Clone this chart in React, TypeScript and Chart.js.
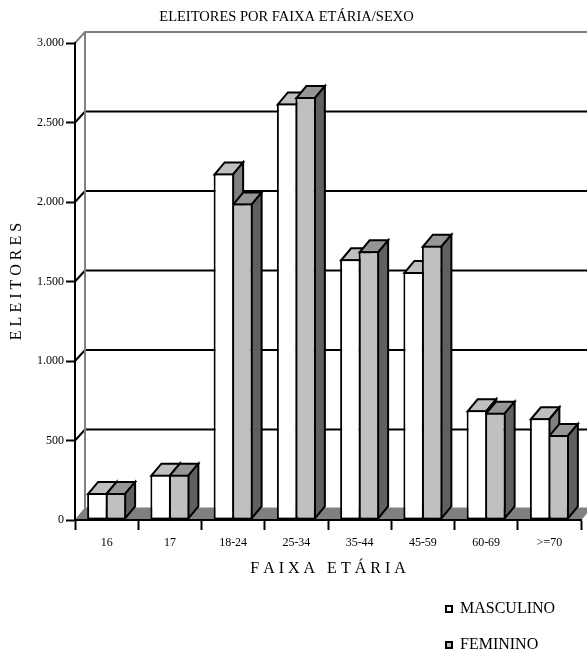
import React, { useEffect, useRef } from "react";
import { Chart, registerables } from "chart.js";

Chart.register(...registerables);

const categories = ["16", "17", "18-24", "25-34", "35-44", "45-59", "60-69", ">=70"];
const masculino = [170, 285, 2180, 2620, 1640, 1560, 690, 640];
const feminino = [170, 285, 1990, 2660, 1690, 1725, 675, 535];

const FONT = "'Liberation Serif', 'Times New Roman', serif";
const DEPTH_X = 10;
const DEPTH_Y = 12;
const seriesShades = [
  { top: "#C0C0C0", side: "#808080" },
  { top: "#969696", side: "#606060" },
];

const poly = (ctx: CanvasRenderingContext2D, pts: number[][], fill: string | null, stroke: string, lw: number) => {
  ctx.beginPath();
  pts.forEach(([x, y], i) => (i ? ctx.lineTo(x, y) : ctx.moveTo(x, y)));
  if (fill) {
    ctx.closePath();
    ctx.fillStyle = fill;
    ctx.fill();
  }
  ctx.strokeStyle = stroke;
  ctx.lineWidth = lw;
  ctx.lineJoin = "miter";
  ctx.stroke();
};

const threeD = {
  id: "threeD",
  afterLayout(chart: any) {
    const t = chart.titleBlock;
    t.left -= 4;
    t.right -= 4;
    const l = chart.legend;
    const pad = l.options.labels.padding;
    l.left = 446 - pad;
    l.right = l.left + 200;
    l.top = 601 - pad;
    l.bottom = 649;
    l.width = l.right - l.left;
    l.height = l.bottom - l.top;
  },
  beforeDraw(chart: any) {
    const { ctx, scales, chartArea } = chart;
    const y = scales.y;
    const x0 = chartArea.left;
    const x1 = chartArea.right;
    ctx.save();
    const by = y.getPixelForValue(0);
    poly(ctx, [[x0, by], [x0 + DEPTH_X, by - DEPTH_Y], [x1 + DEPTH_X, by - DEPTH_Y], [x1, by]], "#808080", "#808080", 1);
    y.ticks.forEach((tick: any) => {
      const py = y.getPixelForValue(tick.value);
      if (tick.value === 0) return;
      const isTop = tick.value === y.max;
      poly(ctx, [[x0, py], [x0 + DEPTH_X, py - DEPTH_Y + 1], [x1 + DEPTH_X, py - DEPTH_Y + 1]], null, isTop ? "#808080" : "#000000", 2);
    });
    const topY = y.getPixelForValue(y.max) - DEPTH_Y + 1;
    poly(ctx, [[x0 + DEPTH_X, topY], [x0 + DEPTH_X, by - DEPTH_Y]], null, "#808080", 2);
    ctx.restore();
  },
  beforeDatasetsDraw(chart: any) {
    const { ctx } = chart;
    ctx.save();
    chart.data.datasets.forEach((_: any, di: number) => {
      const shade = seriesShades[di];
      chart.getDatasetMeta(di).data.forEach((el: any) => {
        const l = el.x - el.width / 2 + 1;
        const r = el.x + el.width / 2 - 1;
        const t = el.y + 1;
        const b = el.base - 1;
        poly(ctx, [[l, t], [l + DEPTH_X, t - DEPTH_Y], [r + DEPTH_X, t - DEPTH_Y], [r, t]], shade.top, "#000000", 2);
        poly(ctx, [[r, t], [r + DEPTH_X, t - DEPTH_Y], [r + DEPTH_X, b - DEPTH_Y], [r, b]], shade.side, "#000000", 2);
      });
    });
    ctx.restore();
  },
};

export default function App() {
  const ref = useRef<HTMLCanvasElement>(null);
  useEffect(() => {
    const chart = new Chart(ref.current!, {
      type: "bar",
      plugins: [threeD],
      data: {
        labels: categories,
        datasets: [
          { label: "MASCULINO", data: masculino, backgroundColor: "#FFFFFF", borderColor: "#000000", borderWidth: 2, borderSkipped: false, inflateAmount: 0 },
          { label: "FEMININO", data: feminino, backgroundColor: "#C0C0C0", borderColor: "#000000", borderWidth: 2, borderSkipped: false, inflateAmount: 0 },
        ],
      } as any,
      options: {
        responsive: false,
        animation: false,
        devicePixelRatio: 1,
        layout: { padding: { left: 0, right: 6, top: 0, bottom: 0 } },
        datasets: { bar: { categoryPercentage: 0.585, barPercentage: 1.108 } },
        plugins: {
          tooltip: { enabled: false },
          title: {
            display: true,
            text: "ELEITORES POR FAIXA ETÁRIA/SEXO",
            color: "#000000",
            font: { family: FONT, size: 14.5, weight: "normal" },
            padding: { top: 8.3, bottom: 17.3 },
          },
          legend: {
            display: true,
            position: "bottom",
            align: "start",
            labels: {
              color: "#000000",
              font: { family: FONT, size: 16 },
              boxWidth: 6,
              boxHeight: 6,
              padding: 20,
            },
          },
        },
        scales: {
          x: {
            afterFit: (s: any) => { s.height = 83; },
            grid: { drawOnChartArea: false, offset: true, tickLength: 10, tickWidth: 2, tickColor: "#000000" },
            border: { color: "#000000", width: 2 },
            ticks: { color: "#000000", font: { family: FONT, size: 12 }, padding: 6, maxRotation: 0, autoSkip: false },
            title: {
              display: true,
              text: "F A I X A   E T Á R I A",
              color: "#000000",
              font: { family: FONT, size: 16 },
              padding: { top: 0, bottom: 24.4 },
            },
          },
          y: {
            min: 0,
            max: 3000,
            afterFit: (s: any) => { s.width = 75; },
            grid: { drawOnChartArea: false, tickLength: 9, tickWidth: 2, tickColor: "#000000" },
            border: { color: "#000000", width: 2 },
            ticks: {
              stepSize: 500,
              color: "#000000",
              font: { family: FONT, size: 12 },
              padding: 2,
              callback: (v: any) => String(v).replace(/\B(?=(\d{3})+$)/g, "."),
            },
            title: {
              display: true,
              text: "E L E I T O R E S",
              color: "#000000",
              font: { family: FONT, size: 16 },
              padding: { top: 7.4, bottom: 0 },
            },
          },
        },
      } as any,
    });
    return () => chart.destroy();
  }, []);
  return (
    <div style={{ position: "absolute", left: 0, top: 0 }}>
      <canvas ref={ref} width={587} height={649} style={{ display: "block" }} />
    </div>
  );
}
